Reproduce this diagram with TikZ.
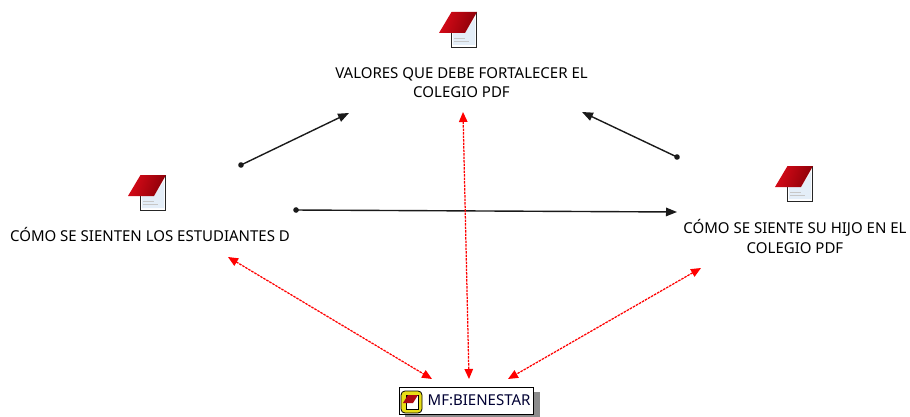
\documentclass[tikz,border=0pt]{standalone}
\usepackage{fontspec}
\setmainfont{Noto Sans}
\usetikzlibrary{arrows.meta,shadows}
\definecolor{capbright}{HTML}{D80A18}
\definecolor{capdark}{HTML}{8A0008}
\definecolor{pageblue}{HTML}{E4EEF8}
\definecolor{linegrey}{HTML}{1A1A1A}
\newcommand{\docicon}[3]{%
  \begin{scope}[shift={(#1,#2)}]
    \node[inner sep=0pt,minimum size=0pt] (#3) at (19,18) {};
    \fill[white] (12,0) rectangle (38,36);
    \fill[pageblue] (26,21) -- (36,6) -- (36,33) -- (14,33) -- (14,21) -- cycle;
    \draw[black!85,line width=1.3pt] (37.5,0) -- (37.5,35.5) -- (12.5,35.5) -- (12.5,21);
    \draw[black!22,line width=.9pt] (15,26) -- (26,26) (15,29) -- (30,29);
    \shade[left color=capbright,right color=capdark,shading angle=70] (12.5,0) -- (38,0) -- (26,21) -- (0,21) -- cycle;
  \end{scope}}
\tikzset{
  lab/.style={font=\fontsize{15pt}{19.5pt}\selectfont,align=center,text=black,inner sep=0pt},
  blackarrow/.style={draw=linegrey,line width=1.4pt,{Circle[length=5.5pt,width=5.5pt]}-{Triangle[length=11pt,width=8.5pt]}},
  redarrow/.style={draw=red,line width=1.25pt,dash pattern=on 2.5pt off 1pt,{Triangle[length=10pt,width=8.5pt]}-{Triangle[length=10pt,width=8.5pt]}},
  mfbox/.style={draw=black,line width=1.3pt,fill=white,minimum width=134pt,minimum height=27pt,inner sep=0pt},
}
\begin{document}
\begin{tikzpicture}[x=1pt,y=-1pt]
\useasboundingbox (0,0) rectangle (910,417);
% icons
\docicon{439}{12}{icontop}
\docicon{128}{175}{iconleft}
\docicon{775}{166}{iconright}
% labels
\node[lab] (valores) at (461.5,82.5) {VALORES QUE DEBE FORTALECER EL\\COLEGIO PDF};
\node[lab] (sienten) at (150,234.5) {CÓMO SE SIENTEN LOS ESTUDIANTES D};
\node[lab] (hijo) at (795,236.5) {CÓMO SE SIENTE SU HIJO EN EL\\COLEGIO PDF};
% MF box
\fill[black!45] (405,392) rectangle (540,417);
\node[mfbox,anchor=north west] (mf) at (399,387) {};
\node[font=\fontsize{15pt}{18pt}\selectfont,text=black!80!blue,inner sep=0pt,anchor=west] (mftext) at (427.5,400) {MF:BIENESTAR};
\fill[yellow!90!black,draw=black,line width=.8pt,rounded corners=4pt] (401,391) rectangle (422,413);
\fill[white,draw=black,line width=.7pt] (406,395) rectangle (418,409);
\fill[capbright!80!black] (408,395) -- (418,395) -- (413,403) -- (403,403) -- cycle;
% free connector ends
\coordinate (a1) at (238.5,166.2);
\coordinate (a2) at (349,113);
\coordinate (b1) at (679.5,158.2);
\coordinate (b2) at (582,112);
\coordinate (c1) at (293.3,210);
\coordinate (c2) at (677,212);
\coordinate (r1) at (228,257);
\coordinate (r2) at (432,379);
\coordinate (r3) at (463,112);
\coordinate (r4) at (469,379);
\coordinate (r5) at (701,268);
\coordinate (r6) at (508,379);
\draw[blackarrow] (a1) -- (a2);
\draw[blackarrow] (b1) -- (b2);
\draw[blackarrow] (c1) -- (c2);
\draw[redarrow] (r1) -- (r2);
\draw[redarrow] (r3) -- (r4);
\draw[redarrow] (r5) -- (r6);
\end{tikzpicture}
\end{document}
